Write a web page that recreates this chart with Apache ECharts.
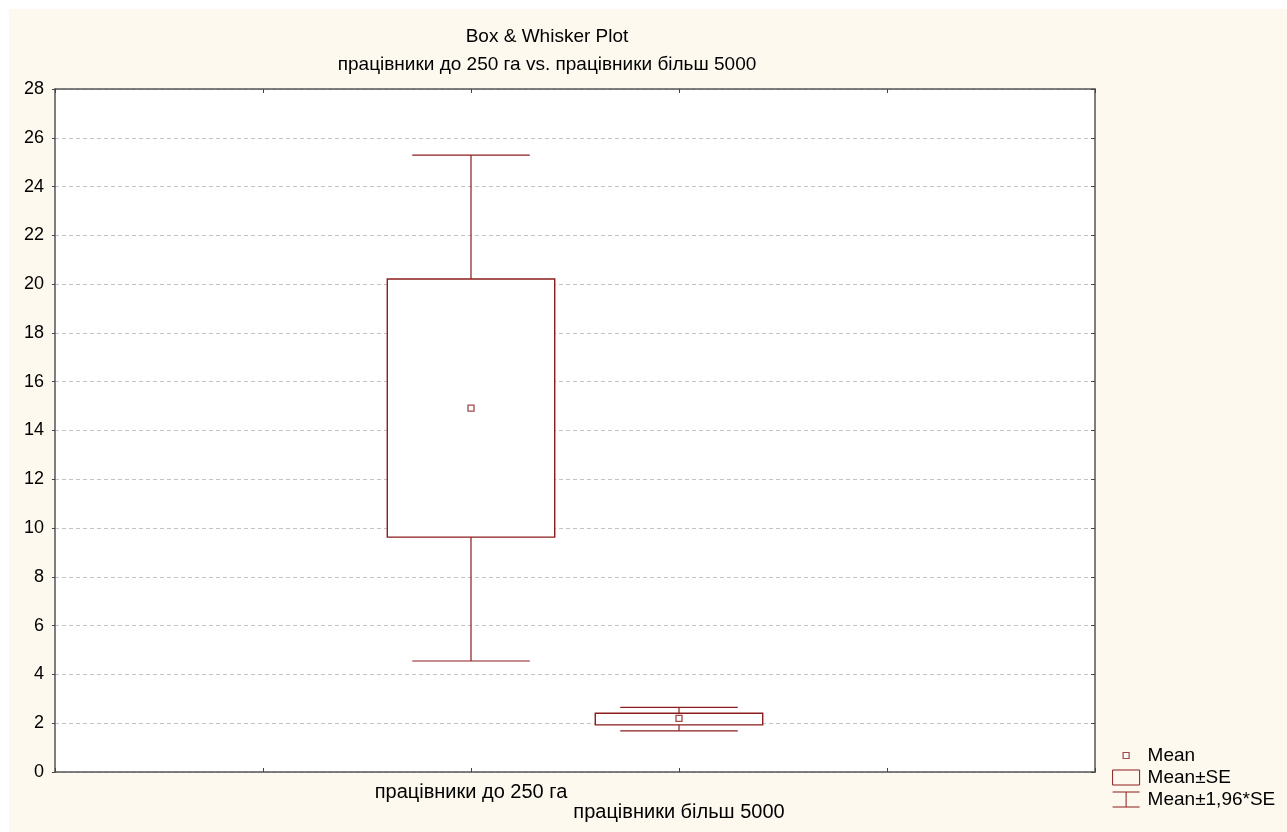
<!DOCTYPE html>
<html>
<head>
<meta charset="utf-8">
<script src="https://cdn.jsdelivr.net/npm/echarts@6/dist/echarts.min.js"></script>
<style>
html,body{margin:0;padding:0;background:#ffffff;}
#bg{position:absolute;left:9px;top:9px;width:1278px;height:823px;background:#fef9ee;}
#chart{position:absolute;left:0;top:0;width:1287px;height:832px;}
</style>
</head>
<body>
<div id="bg"></div>
<div id="chart"></div>
<script>
// ---- data ----
const categories = ['працівники до 250 га', 'працівники більш 5000'];
const categoryPositions = [2, 3];
const means = [14.92, 2.20];
const seLow = [9.63, 1.93];
const seHigh = [20.21, 2.41];
const ciLow = [4.55, 1.69];
const ciHigh = [25.29, 2.65];
const yTicks = [0, 2, 4, 6, 8, 10, 12, 14, 16, 18, 20, 22, 24, 26, 28];

const RED = '#8b1c1c';
const FONT = '"Liberation Sans", Arial, sans-serif';

const statData = categoryPositions.map((x, i) => [x, means[i], seLow[i], seHigh[i], ciLow[i], ciHigh[i]]);
const meanData = categoryPositions.map((x, i) => [x, means[i]]);

const chart = echarts.init(document.getElementById('chart'));

const frameLine = {show: true, onZero: false, lineStyle: {color: '#555', width: 1.5}};

const option = {
  backgroundColor: 'transparent',
  animation: false,
  title: {
    text: 'Box & Whisker Plot',
    subtext: 'працівники до 250 га vs. працівники більш 5000',
    left: 542,
    top: 22,
    textAlign: 'center',
    itemGap: 9,
    textStyle: {fontFamily: FONT, fontSize: 19, lineHeight: 19, fontWeight: 'normal', color: '#000'},
    subtextStyle: {fontFamily: FONT, fontSize: 19, lineHeight: 19, color: '#000'}
  },
  legend: {
    orient: 'vertical',
    left: 1112,
    top: 746,
    itemWidth: 27,
    itemHeight: 15,
    itemGap: 3,
    padding: 0,
    textStyle: {fontFamily: FONT, fontSize: 19, color: '#000', lineHeight: 19, padding: [0, 0, 0, 3]},
    data: [
      {name: 'Mean', icon: 'path://M0,0M27,15M10.5,4.5h6v6h-6z', itemStyle: {color: '#fff', borderColor: RED, borderWidth: 1.2}},
      {name: 'Mean±SE', icon: 'path://M0,0h27v15h-27z', itemStyle: {color: 'transparent', borderColor: RED, borderWidth: 1}},
      {name: 'Mean±1,96*SE', icon: 'path://M0,0h27M13.5,0v15M0,15h27', itemStyle: {color: 'transparent', borderColor: RED, borderWidth: 1}}
    ]
  },
  grid: {left: 55, top: 89, right: 192, bottom: 60, containLabel: false, show: true, backgroundColor: '#ffffff', borderWidth: 0},
  xAxis: [{
    type: 'value', min: 0, max: 5, interval: 1, position: 'bottom',
    axisLine: frameLine,
    axisTick: {show: true, inside: true, length: 4, lineStyle: {color: '#444'}},
    splitLine: {show: false},
    axisLabel: {
      margin: 10, fontFamily: FONT, fontSize: 20, color: '#000', lineHeight: 20,
      showMinLabel: true, showMaxLabel: true,
      formatter: function (v) {
        const i = categoryPositions.indexOf(v);
        if (i < 0) return '';
        return i === 0 ? categories[i] : '\n' + categories[i];
      }
    }
  }, {
    type: 'value', min: 0, max: 5, interval: 1, position: 'top',
    axisLine: frameLine,
    axisTick: {show: true, inside: true, length: 4, lineStyle: {color: '#444'}},
    splitLine: {show: false},
    axisLabel: {show: false}
  }],
  yAxis: [{
    type: 'value', min: yTicks[0], max: yTicks[yTicks.length - 1], interval: 2, position: 'left',
    axisLine: frameLine,
    axisTick: {show: true, inside: false, length: 3, lineStyle: {color: '#444'}},
    splitLine: {show: true, lineStyle: {color: '#c4c4c4', type: [4, 3], width: 1}},
    axisLabel: {margin: 11, fontFamily: FONT, fontSize: 18, color: '#000'}
  }, {
    type: 'value', min: yTicks[0], max: yTicks[yTicks.length - 1], interval: 2, position: 'right',
    axisLine: frameLine,
    axisTick: {show: true, inside: true, length: 4, lineStyle: {color: '#444'}},
    splitLine: {show: false},
    axisLabel: {show: false}
  }],
  series: [
    {
      name: 'Mean±1,96*SE',
      type: 'custom',
      xAxisIndex: 0, yAxisIndex: 0,
      itemStyle: {color: RED},
      data: statData,
      renderItem: function (params, api) {
        const x = api.value(0);
        const seL = api.value(2), seH = api.value(3), ciL = api.value(4), ciH = api.value(5);
        const capW = api.size([0.565, 0])[0];
        const pTop = api.coord([x, ciH]);
        const pSeH = api.coord([x, seH]);
        const pSeL = api.coord([x, seL]);
        const pBot = api.coord([x, ciL]);
        const st = {stroke: RED, lineWidth: 1.2, fill: null};
        return {
          type: 'group',
          children: [
            {type: 'line', shape: {x1: pTop[0], y1: pTop[1], x2: pSeH[0], y2: pSeH[1]}, style: st},
            {type: 'line', shape: {x1: pBot[0], y1: pBot[1], x2: pSeL[0], y2: pSeL[1]}, style: st},
            {type: 'line', shape: {x1: pTop[0] - capW / 2, y1: pTop[1], x2: pTop[0] + capW / 2, y2: pTop[1]}, style: st},
            {type: 'line', shape: {x1: pBot[0] - capW / 2, y1: pBot[1], x2: pBot[0] + capW / 2, y2: pBot[1]}, style: st}
          ]
        };
      }
    },
    {
      name: 'Mean±SE',
      type: 'custom',
      xAxisIndex: 0, yAxisIndex: 0,
      itemStyle: {color: RED},
      data: statData,
      renderItem: function (params, api) {
        const x = api.value(0);
        const seL = api.value(2), seH = api.value(3);
        const boxW = api.size([0.805, 0])[0];
        const pH = api.coord([x, seH]);
        const pL = api.coord([x, seL]);
        return {
          type: 'rect',
          shape: {x: pH[0] - boxW / 2, y: pH[1], width: boxW, height: pL[1] - pH[1]},
          style: {fill: '#fff', stroke: RED, lineWidth: 1.4}
        };
      }
    },
    {
      name: 'Mean',
      type: 'scatter',
      xAxisIndex: 0, yAxisIndex: 0,
      symbol: 'rect',
      symbolSize: 6,
      itemStyle: {color: '#fff', borderColor: RED, borderWidth: 1.3},
      data: meanData,
      z: 5
    }
  ]
};
chart.setOption(option);
</script>
</body>
</html>
